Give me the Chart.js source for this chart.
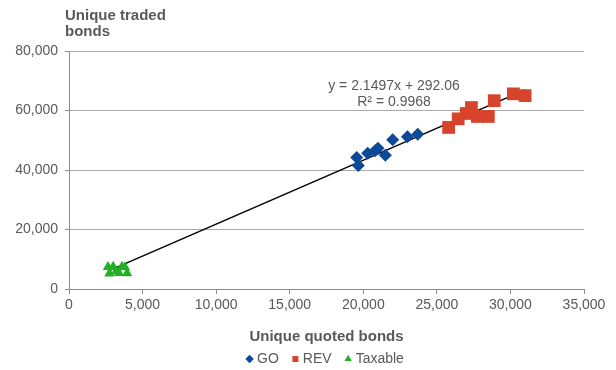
<!DOCTYPE html>
<html>
<head>
<meta charset="utf-8">
<script src="https://cdn.jsdelivr.net/npm/chart.js@4.4.1/dist/chart.umd.min.js"></script>
<style>
  html, body { margin: 0; padding: 0; background: #fff; }
  #wrap { width: 616px; height: 370px; position: relative; }
</style>
</head>
<body>
<div id="wrap"><canvas id="c" width="616" height="370"></canvas></div>
<script>
// Unique quoted bonds (x) vs unique traded bonds (y)
const goQuoted  = [19550, 19660, 20300, 20800, 21000, 21500, 22000, 23000, 23700];
const goTraded  = [44200, 41500, 45600, 46500, 47300, 45000, 50200, 51200, 52000];

const revQuoted = [25800, 26450, 27000, 27350, 27750, 28500, 28900, 30200, 31000];
const revTraded = [54300, 57200, 59000, 61000, 58000, 58000, 63300, 65600, 65000];

const taxQuoted = [2650, 2750, 3000, 3200, 3400, 3600, 3800, 3950];
const taxTraded = [7400, 5200, 7500, 6000, 5400, 7500, 7300, 5300];

// Linear fit shown on the chart
const trendSlope = 2.1497;
const trendIntercept = 292.06;
const trendLabel = ['y = 2.1497x + 292.06', 'R\u00B2 = 0.9968'];

const xTicks = [0, 5000, 10000, 15000, 20000, 25000, 30000, 35000];
const yTicks = [0, 20000, 40000, 60000, 80000];

const toPoints = (xs, ys) => xs.map((x, i) => ({ x, y: ys[i] }));

const allX = [...goQuoted, ...revQuoted, ...taxQuoted];
const xMinData = Math.min(...allX);
const xMaxData = Math.max(...allX);
const trendPoints = [xMinData, xMaxData].map(x => ({ x, y: trendSlope * x + trendIntercept }));

const textGray = '#595959';
const fontFamily = '"Liberation Sans", Arial, sans-serif';

// Keep the legend as a single short row under the x-axis title
const legendRow = {
  id: 'legendRow',
  beforeLayout(chart) {
    const lg = chart.legend;
    if (lg && !lg._rowFit) {
      const fit = lg.fit.bind(lg);
      lg.fit = function () { fit(); this.height = 19; };
      lg._rowFit = true;
    }
  },
  afterLayout(chart) {
    const lg = chart.legend;
    if (lg) { lg.top -= 15; }
  }
};

// Axis title for y, and the fit equation text
const annotations = {
  id: 'annotations',
  afterDraw(chart) {
    const ctx = chart.ctx;
    ctx.save();
    ctx.fillStyle = textGray;
    ctx.font = 'bold 15px ' + fontFamily;
    ctx.textAlign = 'left';
    ctx.textBaseline = 'middle';
    ctx.fillText('Unique traded', 65, 16);
    ctx.fillText('bonds', 65, 32);

    ctx.font = '14px ' + fontFamily;
    ctx.textAlign = 'center';
    ctx.fillText(trendLabel[0], 394, 86);
    ctx.fillText(trendLabel[1], 394, 102);
    ctx.restore();
  }
};

new Chart(document.getElementById('c'), {
  type: 'scatter',
  data: {
    datasets: [
      {
        label: 'GO',
        data: toPoints(goQuoted, goTraded),
        backgroundColor: '#0B4A98',
        borderColor: '#0B4A98',
        pointStyle: 'rectRot',
        pointRadius: 6.5,
        pointHoverRadius: 6.5,
        borderWidth: 0
      },
      {
        label: 'REV',
        data: toPoints(revQuoted, revTraded),
        backgroundColor: '#D8432B',
        borderColor: '#D8432B',
        pointStyle: 'rect',
        pointRadius: 9,
        pointHoverRadius: 9,
        borderWidth: 0
      },
      {
        label: 'Taxable',
        data: toPoints(taxQuoted, taxTraded),
        backgroundColor: '#22B024',
        borderColor: '#22B024',
        pointStyle: 'triangle',
        pointRadius: 6,
        pointHoverRadius: 6,
        borderWidth: 0
      },
      {
        label: 'Linear',
        type: 'line',
        data: trendPoints,
        borderColor: '#000000',
        borderWidth: 1.5,
        pointRadius: 0,
        fill: false
      }
    ]
  },
  plugins: [legendRow, annotations],
  options: {
    responsive: false,
    animation: false,
    devicePixelRatio: 1,
    locale: 'en-US',
    layout: { padding: { top: 51, right: 32, left: 0, bottom: 0 } },
    plugins: {
      tooltip: { enabled: false },
      legend: {
        position: 'bottom',
        fullSize: false,
        labels: {
          filter: item => item.text !== 'Linear',
          usePointStyle: true,
          boxWidth: 1,
          boxHeight: 6,
          padding: 16,
          color: textGray,
          font: { family: fontFamily, size: 14 }
        }
      }
    },
    scales: {
      x: {
        type: 'linear',
        min: 0,
        max: 35000,
        afterBuildTicks: s => { s.ticks = xTicks.map(v => ({ value: v })); },
        afterFit: s => { s.height = 62; },
        border: { color: '#8C8C8C', width: 1 },
        grid: { drawOnChartArea: false, drawTicks: true, tickLength: 5, color: '#8C8C8C' },
        ticks: { color: textGray, font: { family: fontFamily, size: 14 }, padding: 3, maxRotation: 0 },
        title: {
          display: true,
          text: 'Unique quoted bonds',
          color: textGray,
          font: { family: fontFamily, size: 15, weight: 'bold' },
          padding: { top: 14, bottom: 5 }
        }
      },
      y: {
        type: 'linear',
        min: 0,
        max: 80000,
        afterBuildTicks: s => { s.ticks = yTicks.map(v => ({ value: v })); },
        afterFit: s => { s.width = 69; },
        border: { color: '#8C8C8C', width: 1 },
        grid: { color: '#ABABAB', tickLength: 4, tickColor: '#8C8C8C' },
        ticks: { color: textGray, font: { family: fontFamily, size: 14 }, padding: 7 }
      }
    }
  }
});
</script>
</body>
</html>
